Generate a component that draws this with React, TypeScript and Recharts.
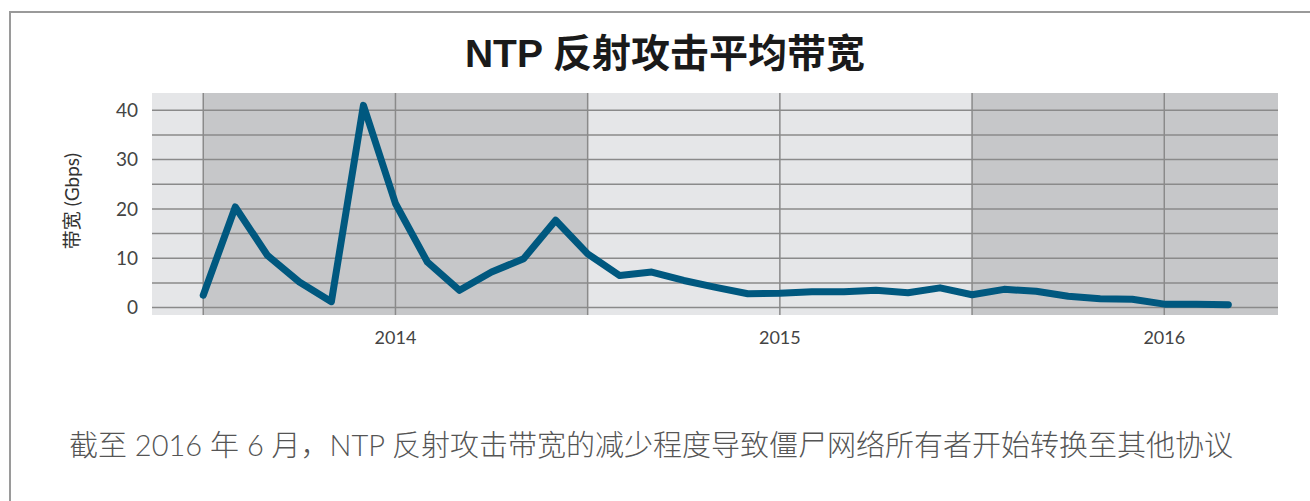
import React from "react";
import {
  LineChart,
  Line,
  XAxis,
  YAxis,
  ReferenceArea,
  ReferenceLine,
} from "recharts";

// Months (categories), July 2013 – March 2016
const months = [
  "2013-07", "2013-08", "2013-09", "2013-10", "2013-11", "2013-12",
  "2014-01", "2014-02", "2014-03", "2014-04", "2014-05", "2014-06",
  "2014-07", "2014-08", "2014-09", "2014-10", "2014-11", "2014-12",
  "2015-01", "2015-02", "2015-03", "2015-04", "2015-05", "2015-06",
  "2015-07", "2015-08", "2015-09", "2015-10", "2015-11", "2015-12",
  "2016-01", "2016-02", "2016-03",
];

// Average NTP reflection attack bandwidth (Gbps)
const bandwidth = [
  2.5, 20.4, 10.6, 5.2, 1.2, 41.0,
  21.1, 9.2, 3.5, 7.2, 9.9, 17.7,
  10.9, 6.5, 7.2, 5.5, 4.1, 2.8,
  2.9, 3.2, 3.2, 3.5, 3.0, 4.0,
  2.6, 3.7, 3.3, 2.3, 1.8, 1.7,
  0.7, 0.7, 0.6,
];

const yearTickMonths = ["2014-01", "2015-01", "2016-01"];
const yearTickLabels = ["2014", "2015", "2016"];
const halfYearLineMonths = ["2013-07", "2014-01", "2014-07", "2015-01", "2015-07", "2016-01"];
const darkBandStarts = ["2013-07", "2015-07"];
const darkBandEnds = ["2014-07", null];
const yTicks = [0, 10, 20, 30, 40];
const yGridValues = [0, 5, 10, 15, 20, 25, 30, 35, 40];

const title = "NTP 反射攻击平均带宽";
const yLabel = "带宽 (Gbps)";
const caption = "截至 2016 年 6 月，NTP 反射攻击带宽的减少程度导致僵尸网络所有者开始转换至其他协议";

const X_MIN = -1.6;
const X_MAX = 33.55;
const Y_MIN = -1.5;
const Y_MAX = 43.5;

const idx = (m: string) => months.indexOf(m);
const data = months.map((m, i) => ({ m: i, label: m, v: bandwidth[i] }));
const yearTicks = yearTickMonths.map(idx);

const LIGHT = "#e5e6e8";
const DARK = "#c6c7c9";
const GRID = "#8a8a8a";
const LINE = "#00587f";
const TICK_FONT = "Lato, 'Noto Sans', sans-serif";

export default function App() {
  return (
    <div style={{ position: "absolute", left: 0, top: 0, width: 1310, height: 501, background: "#fff", overflow: "hidden" }}>
      {/* frame */}
      <div style={{ position: "absolute", left: 9, top: 11, width: 1400, height: 600, borderTop: "2px solid #9a9a9a", borderLeft: "2px solid #9a9a9a" }} />
      <LineChart
        width={1310}
        height={501}
        data={data}
        margin={{ top: 93, right: 32, bottom: 156, left: 92 }}
        style={{ position: "absolute", left: 0, top: 0 }}
      >
        <XAxis
          type="number"
          dataKey="m"
          domain={[X_MIN, X_MAX]}
          ticks={yearTicks}
          tickFormatter={(v: number) => yearTickLabels[yearTicks.indexOf(v)] ?? ""}
          axisLine={false}
          tickLine={false}
          tickSize={0}
          tickMargin={16}
          height={30}
          tick={{ fill: "#444", fontSize: 18, fontFamily: TICK_FONT }}
          interval={0}
        />
        <YAxis
          type="number"
          domain={[Y_MIN, Y_MAX]}
          ticks={yTicks}
          axisLine={false}
          tickLine={false}
          tickSize={0}
          tickMargin={14}
          width={60}
          tick={{ fill: "#444", fontSize: 19, fontFamily: TICK_FONT }}
          interval={0}
        />
        <ReferenceArea x1={X_MIN} x2={X_MAX} y1={Y_MIN} y2={Y_MAX} fill={LIGHT} fillOpacity={1} stroke="none" zIndex={-200} />
        {darkBandStarts.map((s, i) => (
          <ReferenceArea
            key={"b" + i}
            x1={idx(s)}
            x2={darkBandEnds[i] ? idx(darkBandEnds[i] as string) : X_MAX}
            y1={Y_MIN}
            y2={Y_MAX}
            fill={DARK}
            fillOpacity={1}
            stroke="none"
            zIndex={-150}
          />
        ))}
        {yGridValues.map((v) => (
          <ReferenceLine key={"h" + v} y={v} stroke={GRID} strokeWidth={1.5} zIndex={-100} />
        ))}
        {halfYearLineMonths.map((m) => (
          <ReferenceLine key={"v" + m} x={idx(m)} stroke={GRID} strokeWidth={1.5} zIndex={-100} />
        ))}
        <Line
          type="linear"
          dataKey="v"
          stroke={LINE}
          strokeWidth={7}
          strokeLinejoin="round"
          strokeLinecap="round"
          dot={false}
          activeDot={false}
          isAnimationActive={false}
        />
      </LineChart>
      <svg width={1310} height={501} style={{ position: "absolute", left: 0, top: 0, pointerEvents: "none" }}>
        <text
          x={665}
          y={67}
          textAnchor="middle"
          fill="#1a1a1a"
          fontSize={39}
          fontWeight="bold"
          fontFamily="'Liberation Sans', 'Noto Sans CJK SC', sans-serif"
        >
          {title}
        </text>
        <text
          x={0}
          y={0}
          transform="translate(79 201) rotate(-90)"
          textAnchor="middle"
          fill="#333333"
          fontSize={19}
          fontFamily="Lato, 'Noto Sans CJK SC', sans-serif"
        >
          {yLabel}
        </text>
        <text
          x={69}
          y={456}
          fill="#555555"
          fontSize={29}
          fontWeight={300}
          fontFamily="Lato, 'Noto Sans CJK SC', sans-serif"
        >
          {caption}
        </text>
      </svg>
    </div>
  );
}
